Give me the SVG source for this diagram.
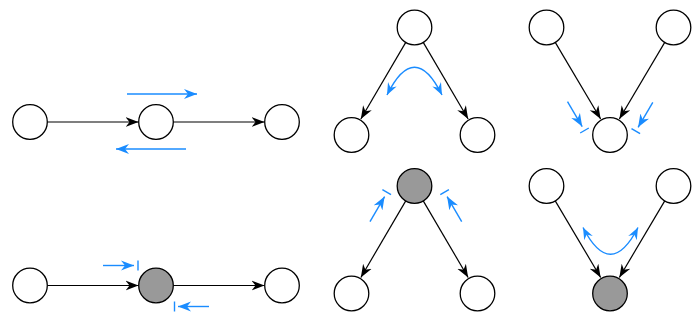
<svg xmlns="http://www.w3.org/2000/svg" width="700" height="321" viewBox="0 0 700 321">
  <defs>
    <marker id="ah" viewBox="-13 -6 14 12" refX="0" refY="0" markerWidth="14" markerHeight="12" markerUnits="userSpaceOnUse" orient="auto">
      <path d="M0,0 L-13,-5 L-9,0 L-13,5 Z" fill="#000"/>
    </marker>
    <marker id="bh" viewBox="-13 -6 14 12" refX="0" refY="0" markerWidth="14" markerHeight="12" markerUnits="userSpaceOnUse" orient="auto-start-reverse">
      <path d="M0,0 L-13,-5 L-9,0 L-13,5 Z" fill="#1a8cff"/>
    </marker>
    <marker id="bs" viewBox="-12 -6 13 12" refX="0" refY="0" markerWidth="13" markerHeight="12" markerUnits="userSpaceOnUse" orient="auto-start-reverse">
      <path d="M0,0 L-12,-4.8 L-8,0 L-12,4.8 Z" fill="#1a8cff"/>
    </marker>
  </defs>
  <style>
    .n { fill: #fff; stroke: #000; stroke-width: 1.3; }
    .g { fill: #999; stroke: #000; stroke-width: 1.3; }
    .e { stroke: #000; stroke-width: 1.2; fill: none; marker-end: url(#ah); }
    .b { stroke: #1a8cff; stroke-width: 1.4; fill: none; }
    .ba { stroke: #1a8cff; stroke-width: 1.4; fill: none; marker-end: url(#bh); }
    .bb { stroke: #1a8cff; stroke-width: 1.4; fill: none; marker-start: url(#bs); marker-end: url(#bs); }
  </style>

  <g id="connectors">
    <line class="e" x1="47.3" y1="122" x2="138.5" y2="122"/>
    <line class="e" x1="173.3" y1="122" x2="264.5" y2="122"/>
    <line class="e" x1="47.3" y1="285.5" x2="138.5" y2="285.5"/>
    <line class="e" x1="173.3" y1="285.5" x2="264.5" y2="285.5"/>
    <line class="e" x1="405.75" y1="42.4" x2="360.85" y2="119"/>
    <line class="e" x1="423.25" y1="42.4" x2="468.15" y2="119"/>
    <line class="e" x1="405.75" y1="200.9" x2="360.85" y2="277.5"/>
    <line class="e" x1="423.25" y1="200.9" x2="468.15" y2="277.5"/>
    <line class="e" x1="555.25" y1="42.4" x2="600.65" y2="119"/>
    <line class="e" x1="664.75" y1="42.4" x2="619.35" y2="119"/>
    <line class="e" x1="555.25" y1="200.9" x2="600.65" y2="277.5"/>
    <line class="e" x1="664.75" y1="200.9" x2="619.35" y2="277.5"/>
  </g>

  <g id="flows">
    <line class="ba" x1="127" y1="94" x2="197" y2="94"/>
    <line class="ba" x1="186" y1="149" x2="116" y2="149"/>
    <line class="ba" x1="103" y1="265.5" x2="134" y2="265.5"/>
    <line class="b" x1="138" y1="260.5" x2="138" y2="270.5"/>
    <line class="ba" x1="209" y1="306.5" x2="178" y2="306.5"/>
    <line class="b" x1="174.5" y1="301.5" x2="174.5" y2="311.5"/>
    <path class="bb" d="M387,95 Q414.5,39.5 442,95"/>
    <line class="ba" x1="370" y1="221.7" x2="384.6" y2="196.6"/>
    <line class="b" x1="382.4" y1="189.7" x2="391" y2="194.7"/>
    <line class="ba" x1="461.7" y1="221.7" x2="447.1" y2="196.6"/>
    <line class="b" x1="440.3" y1="194.7" x2="448.9" y2="189.7"/>
    <line class="ba" x1="567.5" y1="101.6" x2="582.2" y2="126.6"/>
    <line class="b" x1="580.2" y1="133" x2="588.8" y2="128"/>
    <line class="ba" x1="652.8" y1="102.3" x2="638.1" y2="127.3"/>
    <line class="b" x1="631.5" y1="128.7" x2="640.1" y2="133.7"/>
    <path class="bb" d="M583,227.5 Q610.5,281 638,227.5"/>
  </g>

  <g id="p1a"><circle class="n" cx="30" cy="122" r="17.3"/></g>
  <g id="p1b"><circle class="n" cx="156" cy="122" r="17.3"/></g>
  <g id="p1c"><circle class="n" cx="282" cy="122" r="17.3"/></g>
  <g id="p2a"><circle class="n" cx="30" cy="285.5" r="17.3"/></g>
  <g id="p2b"><circle class="g" cx="156" cy="285.5" r="17.3"/></g>
  <g id="p2c"><circle class="n" cx="282" cy="285.5" r="17.3"/></g>
  <g id="p3top"><circle class="n" cx="414.5" cy="27.5" r="17.3"/></g>
  <g id="p3l"><circle class="n" cx="351.5" cy="135" r="17.3"/></g>
  <g id="p3r"><circle class="n" cx="477.5" cy="135" r="17.3"/></g>
  <g id="p4top"><circle class="g" cx="414.5" cy="186" r="17.3"/></g>
  <g id="p4l"><circle class="n" cx="351.5" cy="293.5" r="17.3"/></g>
  <g id="p4r"><circle class="n" cx="477.5" cy="293.5" r="17.3"/></g>
  <g id="p5l"><circle class="n" cx="546.5" cy="27.5" r="17.3"/></g>
  <g id="p5r"><circle class="n" cx="673.5" cy="27.5" r="17.3"/></g>
  <g id="p5bot"><circle class="n" cx="610" cy="135" r="17.3"/></g>
  <g id="p6l"><circle class="n" cx="546.5" cy="186" r="17.3"/></g>
  <g id="p6r"><circle class="n" cx="673.5" cy="186" r="17.3"/></g>
  <g id="p6bot"><circle class="g" cx="610" cy="293.5" r="17.3"/></g>
</svg>
